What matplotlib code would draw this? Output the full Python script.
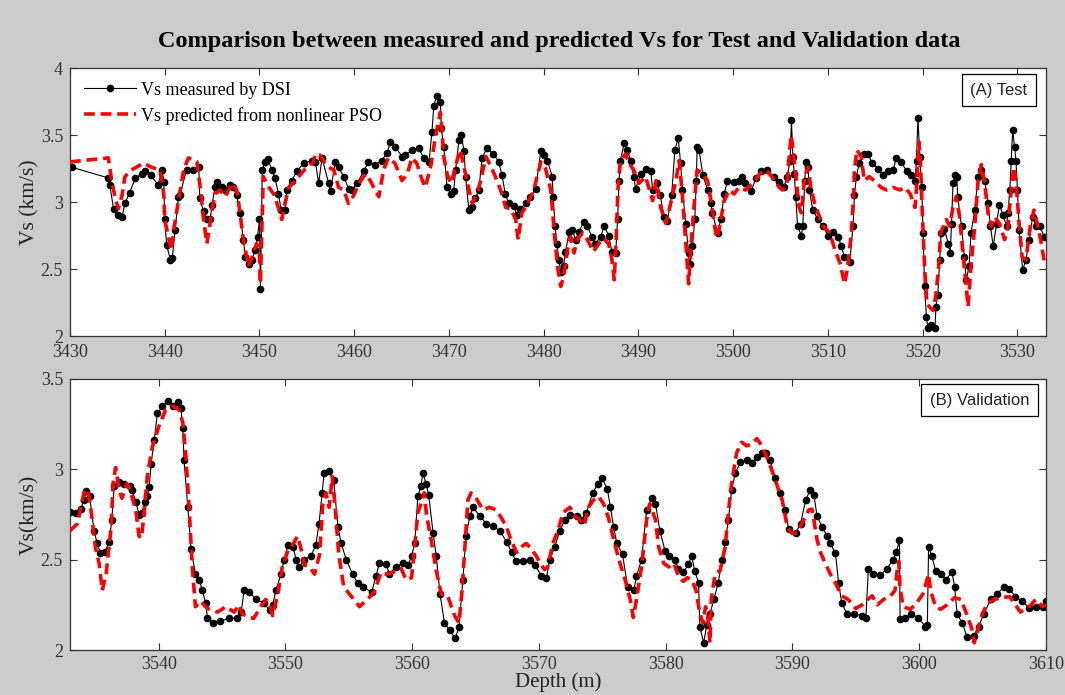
import matplotlib
matplotlib.use("Agg")
import matplotlib.pyplot as plt

# ---- (A) Test interval ----
test_depth_meas = [
    3430.2, 3434.05, 3434.2, 3434.6, 3435.1, 3435.5, 3435.8, 3436.3, 3436.9, 3437.6,
    3437.9, 3438.5, 3439.3, 3439.75, 3439.9, 3440.0, 3440.2, 3440.6, 3440.8, 3441.1,
    3441.45, 3441.6, 3442.3, 3443.0, 3443.6, 3443.7, 3444.1, 3444.45, 3444.8, 3445.0,
    3445.3, 3445.5, 3446.0, 3446.35, 3446.9, 3447.2, 3447.6, 3447.95, 3448.3, 3448.5,
    3448.85, 3449.2, 3449.55, 3449.8, 3450.0, 3450.1, 3450.3, 3450.6, 3450.9, 3451.3,
    3451.65, 3452.0, 3452.3, 3452.7, 3452.9, 3453.4, 3453.95, 3454.65, 3455.5, 3455.9,
    3456.25, 3456.6, 3457.3, 3457.5, 3458.0, 3458.35, 3458.9, 3459.4, 3459.75, 3460.3,
    3461.0, 3461.5, 3462.2, 3462.9, 3463.5, 3463.8, 3464.35, 3465.05, 3465.4, 3466.1,
    3466.8, 3467.35, 3467.9, 3468.2, 3468.4, 3468.7, 3469.1, 3469.2, 3469.45, 3469.8,
    3470.2, 3470.5, 3470.7, 3471.05, 3471.3, 3471.6, 3471.75, 3472.1, 3472.45, 3472.8,
    3473.15, 3473.5, 3474.0, 3474.7, 3475.25, 3475.6, 3475.95, 3476.3, 3476.85, 3477.2,
    3477.55, 3478.1, 3478.6, 3479.15, 3479.7, 3480.0, 3480.4, 3480.9, 3481.0, 3481.2,
    3481.4, 3481.6, 3481.8, 3482.1, 3482.3, 3482.7, 3483.0, 3483.4, 3483.7, 3484.25,
    3484.6, 3485.1, 3485.45, 3486.0, 3486.4, 3486.85, 3487.2, 3487.6, 3487.8, 3487.95,
    3488.1, 3488.5, 3488.8, 3489.2, 3489.5, 3489.7, 3490.25, 3490.8, 3491.3, 3491.5,
    3492.0, 3492.3, 3492.7, 3493.05, 3493.5, 3493.85, 3494.2, 3494.45, 3494.65, 3495.0,
    3495.3, 3495.45, 3495.7, 3495.95, 3496.1, 3496.2, 3496.4, 3496.8, 3497.3, 3497.65,
    3497.8, 3498.35, 3498.7, 3499.05, 3499.4, 3500.1, 3500.6, 3500.95, 3501.3, 3501.9,
    3502.4, 3502.95, 3503.6, 3504.3, 3504.85, 3505.35, 3505.7, 3506.0, 3506.15, 3506.3,
    3506.45, 3506.6, 3506.8, 3507.2, 3507.35, 3507.55, 3507.7, 3507.9, 3508.05, 3508.4,
    3508.95, 3509.5, 3510.0, 3510.55, 3511.1, 3511.4, 3511.75, 3512.3, 3512.65, 3512.8,
    3513.0, 3513.3, 3513.85, 3514.2, 3514.7, 3515.3, 3515.8, 3516.35, 3516.9, 3517.2,
    3517.75, 3518.3, 3518.8, 3519.2, 3519.35, 3519.5, 3519.7, 3519.9, 3520.05, 3520.2,
    3520.4, 3520.55, 3520.9, 3521.3, 3521.4, 3521.6, 3521.8, 3521.95, 3522.3, 3522.7,
    3522.9, 3523.05, 3523.2, 3523.4, 3523.6, 3523.7, 3524.1, 3524.4, 3524.6, 3524.9,
    3525.1, 3525.5, 3525.85, 3526.2, 3526.55, 3526.9, 3527.15, 3527.45, 3527.8, 3528.1,
    3528.5, 3528.85, 3529.0, 3529.2, 3529.35, 3529.5, 3529.7, 3529.85, 3530.0, 3530.2,
    3530.55, 3530.9, 3531.25, 3531.6, 3531.95, 3532.35, 3532.85,
]
test_vs_meas = [
    3.26, 3.18, 3.13, 2.95, 2.90, 2.89, 2.99, 3.07, 3.18, 3.21,
    3.23, 3.20, 3.13, 3.24, 3.15, 2.87, 2.68, 2.57, 2.58, 2.79,
    3.04, 3.05, 3.24, 3.24, 3.26, 3.03, 2.93, 2.87, 2.87, 2.98,
    3.11, 3.15, 3.11, 3.09, 3.13, 3.11, 3.05, 2.92, 2.72, 2.59,
    2.54, 2.57, 2.64, 2.74, 2.87, 2.35, 3.24, 3.30, 3.32, 3.24,
    3.18, 3.06, 2.94, 2.94, 3.09, 3.16, 3.23, 3.29, 3.31, 3.30,
    3.14, 3.33, 3.14, 3.08, 3.30, 3.26, 3.19, 3.10, 3.09, 3.14,
    3.23, 3.30, 3.28, 3.31, 3.37, 3.45, 3.41, 3.34, 3.35, 3.39,
    3.40, 3.33, 3.30, 3.52, 3.72, 3.79, 3.75, 3.55, 3.41, 3.11,
    3.06, 3.08, 3.24, 3.46, 3.50, 3.38, 3.19, 2.94, 2.96, 3.03,
    3.09, 3.33, 3.40, 3.36, 3.30, 3.20, 3.06, 2.99, 2.97, 2.90,
    2.95, 2.99, 3.04, 3.10, 3.38, 3.35, 3.31, 3.19, 3.04, 2.82,
    2.69, 2.57, 2.48, 2.52, 2.63, 2.78, 2.79, 2.72, 2.78, 2.85,
    2.82, 2.74, 2.69, 2.74, 2.82, 2.75, 2.63, 2.62, 2.87, 3.16,
    3.31, 3.44, 3.39, 3.31, 3.19, 3.10, 3.21, 3.25, 3.23, 3.09,
    3.14, 3.05, 2.89, 2.86, 3.05, 3.39, 3.48, 3.29, 3.09, 2.84,
    2.62, 2.54, 2.67, 2.87, 3.16, 3.41, 3.39, 3.20, 3.09, 2.99,
    2.92, 2.77, 2.87, 3.06, 3.16, 3.15, 3.16, 3.19, 3.14, 3.08,
    3.18, 3.23, 3.24, 3.19, 3.15, 3.11, 3.19, 3.31, 3.61, 3.34,
    3.21, 3.04, 2.82, 2.75, 2.82, 3.16, 3.30, 3.26, 3.09, 2.94,
    2.87, 2.82, 2.75, 2.78, 2.74, 2.67, 2.59, 2.55, 2.82, 3.05,
    3.19, 3.29, 3.36, 3.36, 3.29, 3.25, 3.20, 3.23, 3.24, 3.33,
    3.30, 3.23, 3.20, 3.16, 3.31, 3.63, 3.34, 3.11, 2.77, 2.37,
    2.14, 2.06, 2.08, 2.06, 2.22, 2.31, 2.57, 2.77, 2.80, 2.69,
    2.62, 2.84, 3.14, 3.20, 3.19, 3.04, 2.82, 2.59, 2.42, 2.52,
    2.77, 2.94, 3.19, 3.24, 3.16, 2.99, 2.82, 2.67, 2.84, 2.98,
    2.90, 2.82, 2.92, 3.09, 3.31, 3.54, 3.41, 3.31, 3.09, 2.79,
    2.49, 2.57, 2.72, 2.89, 2.82, 2.82, 2.74,
]
test_depth_pred = [
    3430.0, 3434.05, 3434.4, 3434.75, 3435.1, 3435.5, 3435.8, 3436.5, 3437.75, 3438.6,
    3439.5, 3439.9, 3440.0, 3440.4, 3440.7, 3440.95, 3441.45, 3442.0, 3442.5, 3443.4,
    3443.75, 3444.1, 3444.45, 3445.0, 3445.3, 3445.85, 3446.4, 3447.1, 3447.6, 3447.95,
    3448.3, 3448.85, 3449.35, 3449.7, 3450.0, 3450.1, 3450.3, 3450.4, 3451.0, 3451.5,
    3452.0, 3452.35, 3452.7, 3453.1, 3453.8, 3454.85, 3455.7, 3455.9, 3456.4, 3456.8,
    3457.3, 3457.85, 3458.35, 3458.9, 3459.4, 3459.95, 3460.5, 3461.2, 3461.7, 3462.25,
    3462.6, 3463.1, 3463.6, 3464.3, 3465.05, 3465.6, 3466.1, 3466.6, 3467.2, 3467.5,
    3468.05, 3468.4, 3468.75, 3469.1, 3469.25, 3469.45, 3469.8, 3470.2, 3470.5, 3470.85,
    3471.2, 3471.6, 3471.9, 3472.45, 3472.95, 3473.35, 3473.9, 3474.4, 3474.9, 3475.45,
    3476.0, 3476.5, 3477.05, 3477.3, 3477.7, 3478.25, 3478.95, 3479.7, 3480.2, 3480.75,
    3481.1, 3481.45, 3481.8, 3482.1, 3482.5, 3482.85, 3483.2, 3483.55, 3484.1, 3484.6,
    3485.25, 3485.8, 3486.3, 3486.85, 3487.2, 3487.45, 3487.65, 3487.85, 3488.1, 3488.65,
    3489.0, 3489.5, 3490.05, 3490.75, 3491.5, 3491.85, 3492.35, 3492.9, 3493.4, 3493.95,
    3494.3, 3494.65, 3494.95, 3495.3, 3495.6, 3495.95, 3496.2, 3496.8, 3497.3, 3497.65,
    3498.0, 3498.25, 3498.5, 3499.05, 3499.6, 3500.1, 3500.6, 3501.3, 3502.1, 3502.8,
    3503.45, 3504.2, 3504.85, 3505.2, 3505.7, 3506.1, 3506.3, 3506.6, 3506.95, 3507.2,
    3507.55, 3507.9, 3508.2, 3508.6, 3508.95, 3509.5, 3510.2, 3510.75, 3511.3, 3511.75,
    3512.1, 3512.5, 3512.7, 3512.8, 3513.05, 3513.5, 3513.85, 3514.35, 3514.9, 3515.6,
    3516.2, 3516.9, 3517.6, 3518.1, 3518.7, 3519.2, 3519.4, 3519.6, 3519.75, 3519.95,
    3520.2, 3520.45, 3520.7, 3521.1, 3521.4, 3521.7, 3521.9, 3522.2, 3522.5, 3522.85,
    3523.2, 3523.55, 3523.9, 3524.25, 3524.8, 3525.1, 3525.5, 3525.85, 3526.2, 3526.55,
    3526.9, 3527.25, 3527.6, 3528.1, 3528.65, 3529.0, 3529.35, 3529.6, 3529.85, 3530.2,
    3530.5, 3530.9, 3531.4, 3531.75, 3532.1, 3532.45, 3532.85,
]
test_vs_pred = [
    3.30, 3.33, 3.16, 3.04, 2.95, 3.05, 3.19, 3.24, 3.29, 3.26,
    3.24, 3.06, 2.87, 2.74, 2.64, 2.79, 3.01, 3.24, 3.33, 3.30,
    3.11, 2.87, 2.69, 2.94, 3.06, 3.09, 3.04, 3.14, 3.09, 2.92,
    2.72, 2.52, 2.62, 2.69, 2.62, 2.39, 2.92, 3.19, 3.11, 3.06,
    2.96, 2.87, 2.99, 3.11, 3.16, 3.25, 3.30, 3.36, 3.35, 3.30,
    3.26, 3.24, 3.11, 3.09, 2.99, 3.05, 3.14, 3.21, 3.16, 3.08,
    3.04, 3.24, 3.33, 3.29, 3.16, 3.21, 3.33, 3.29, 3.16, 3.11,
    3.26, 3.41, 3.55, 3.67, 3.55, 3.34, 3.21, 3.14, 3.21, 3.31,
    3.39, 3.26, 3.16, 2.99, 3.06, 3.16, 3.34, 3.27, 3.19, 3.09,
    2.96, 2.95, 2.87, 2.72, 2.92, 2.98, 3.09, 3.30, 3.25, 3.09,
    2.79, 2.52, 2.37, 2.44, 2.64, 2.74, 2.62, 2.72, 2.77, 2.72,
    2.63, 2.69, 2.73, 2.69, 2.57, 2.42, 2.72, 3.11, 3.31, 3.36,
    3.29, 3.24, 3.14, 3.19, 3.01, 3.16, 2.96, 2.84, 2.99, 3.16,
    3.31, 3.04, 2.74, 2.39, 2.72, 3.04, 3.24, 3.21, 3.16, 3.01,
    2.84, 2.73, 2.79, 3.01, 3.09, 3.06, 3.11, 3.09, 3.14, 3.21,
    3.24, 3.18, 3.11, 3.09, 3.14, 3.50, 3.41, 3.21, 2.96, 2.92,
    3.19, 3.26, 3.11, 2.99, 2.92, 2.82, 2.77, 2.64, 2.54, 2.39,
    2.52, 2.79, 3.04, 3.24, 3.39, 3.34, 3.16, 3.19, 3.16, 3.11,
    3.09, 3.11, 3.09, 3.11, 3.06, 2.96, 3.16, 3.45, 3.34, 2.94,
    2.52, 2.24, 2.22, 2.19, 2.31, 2.52, 2.77, 2.82, 2.87, 2.82,
    2.96, 3.04, 2.89, 2.62, 2.22, 2.52, 2.82, 3.16, 3.28, 3.14,
    2.92, 2.82, 2.89, 2.84, 2.72, 2.82, 3.09, 3.26, 3.16, 2.82,
    2.59, 2.57, 2.84, 2.94, 2.84, 2.72, 2.55,
]

# ---- (B) Validation interval ----
val_depth_meas = [
    3533.0, 3533.45, 3533.85, 3534.1, 3534.3, 3534.55, 3534.9, 3535.15, 3535.4, 3535.75,
    3536.1, 3536.3, 3536.5, 3536.9, 3537.3, 3537.7, 3537.9, 3538.2, 3538.45, 3538.7,
    3538.9, 3539.1, 3539.25, 3539.4, 3539.65, 3539.9, 3540.3, 3540.7, 3541.1, 3541.5,
    3541.75, 3541.9, 3542.0, 3542.3, 3542.55, 3542.9, 3543.2, 3543.45, 3543.7, 3543.85,
    3544.25, 3544.8, 3545.55, 3546.2, 3546.5, 3546.75, 3547.15, 3547.7, 3548.3, 3548.75,
    3549.0, 3549.25, 3549.65, 3549.9, 3550.2, 3550.6, 3550.85, 3551.1, 3551.5, 3552.0,
    3552.4, 3552.65, 3552.9, 3553.05, 3553.4, 3553.8, 3554.15, 3554.4, 3554.8, 3555.3,
    3555.7, 3556.1, 3556.8, 3557.15, 3557.4, 3557.95, 3558.2, 3558.7, 3559.3, 3559.7,
    3559.95, 3560.2, 3560.45, 3560.7, 3560.85, 3561.1, 3561.3, 3561.65, 3561.9, 3562.2,
    3562.55, 3562.95, 3563.4, 3563.7, 3564.0, 3564.25, 3564.55, 3564.8, 3565.35, 3565.85,
    3566.4, 3566.9, 3567.45, 3567.85, 3568.2, 3568.75, 3569.3, 3569.7, 3570.2, 3570.6,
    3570.85, 3571.25, 3571.65, 3572.05, 3572.45, 3573.0, 3573.35, 3573.75, 3574.25, 3574.65,
    3575.0, 3575.4, 3575.65, 3575.9, 3576.15, 3576.6, 3577.0, 3577.5, 3577.7, 3578.1,
    3578.5, 3578.9, 3579.2, 3579.55, 3579.95, 3580.3, 3580.75, 3581.0, 3581.4, 3581.8,
    3582.05, 3582.3, 3582.6, 3582.7, 3583.0, 3583.25, 3583.5, 3583.8, 3584.15, 3584.45,
    3584.7, 3584.95, 3585.2, 3585.5, 3585.9, 3586.4, 3586.8, 3587.2, 3587.6, 3587.95,
    3588.25, 3588.65, 3589.0, 3589.45, 3589.7, 3590.25, 3590.65, 3591.05, 3591.4, 3591.7,
    3591.95, 3592.35, 3592.75, 3593.0, 3593.4, 3593.65, 3593.9, 3594.3, 3594.85, 3595.5,
    3595.8, 3596.0, 3596.4, 3596.95, 3597.45, 3597.95, 3598.2, 3598.45, 3598.5, 3598.85,
    3599.35, 3599.9, 3600.5, 3600.65, 3600.75, 3601.0, 3601.3, 3601.7, 3602.1, 3602.6,
    3602.8, 3603.0, 3603.4, 3603.8, 3604.35, 3604.7, 3605.1, 3605.65, 3606.15, 3606.7,
    3607.1, 3607.6, 3608.15, 3608.7, 3609.2, 3609.75, 3610.0,
]
val_vs_meas = [
    2.765, 2.76, 2.78, 2.83, 2.88, 2.85, 2.66, 2.59, 2.535, 2.54,
    2.60, 2.72, 2.91, 2.93, 2.92, 2.91, 2.885, 2.82, 2.75, 2.76,
    2.82, 2.85, 2.90, 3.03, 3.16, 3.31, 3.35, 3.38, 3.35, 3.37,
    3.34, 3.23, 3.05, 2.79, 2.56, 2.42, 2.39, 2.33, 2.26, 2.18,
    2.15, 2.16, 2.175, 2.175, 2.21, 2.33, 2.32, 2.28, 2.26, 2.22,
    2.25, 2.33, 2.42, 2.50, 2.58, 2.57, 2.50, 2.46, 2.50, 2.52,
    2.58, 2.70, 2.87, 2.98, 2.99, 2.94, 2.68, 2.59, 2.50, 2.42,
    2.37, 2.35, 2.32, 2.41, 2.48, 2.475, 2.42, 2.46, 2.48, 2.47,
    2.52, 2.59, 2.85, 2.91, 2.98, 2.92, 2.86, 2.65, 2.52, 2.31,
    2.15, 2.11, 2.065, 2.13, 2.39, 2.63, 2.74, 2.79, 2.74, 2.70,
    2.685, 2.66, 2.60, 2.54, 2.49, 2.49, 2.50, 2.47, 2.41, 2.40,
    2.50, 2.57, 2.66, 2.72, 2.75, 2.74, 2.72, 2.76, 2.87, 2.92,
    2.95, 2.89, 2.79, 2.68, 2.59, 2.53, 2.35, 2.33, 2.41, 2.50,
    2.775, 2.84, 2.81, 2.66, 2.55, 2.52, 2.50, 2.45, 2.43, 2.475,
    2.52, 2.44, 2.37, 2.13, 2.04, 2.14, 2.20, 2.28, 2.37, 2.50,
    2.60, 2.72, 2.885, 2.98, 3.04, 3.05, 3.035, 3.07, 3.09, 3.09,
    3.05, 2.95, 2.87, 2.775, 2.67, 2.645, 2.70, 2.83, 2.885, 2.86,
    2.74, 2.68, 2.63, 2.59, 2.535, 2.37, 2.26, 2.20, 2.20, 2.19,
    2.18, 2.45, 2.42, 2.415, 2.45, 2.50, 2.54, 2.61, 2.17, 2.175,
    2.20, 2.18, 2.13, 2.14, 2.57, 2.52, 2.44, 2.42, 2.39, 2.43,
    2.35, 2.20, 2.15, 2.07, 2.08, 2.13, 2.20, 2.28, 2.31, 2.35,
    2.34, 2.295, 2.27, 2.23, 2.24, 2.24, 2.27,
]
val_depth_pred = [
    3533.0, 3533.6, 3534.1, 3534.4, 3534.65, 3535.0, 3535.3, 3535.55, 3535.85, 3536.25,
    3536.4, 3536.6, 3536.9, 3537.1, 3537.5, 3537.75, 3538.2, 3538.45, 3538.65, 3538.85,
    3539.1, 3539.5, 3540.0, 3540.55, 3541.1, 3541.6, 3541.9, 3542.15, 3542.4, 3542.65,
    3542.9, 3543.3, 3543.85, 3544.65, 3545.3, 3545.95, 3546.35, 3546.6, 3547.0, 3547.5,
    3548.05, 3548.45, 3548.7, 3549.0, 3549.4, 3549.75, 3550.2, 3550.55, 3550.95, 3551.2,
    3551.5, 3551.9, 3552.3, 3552.7, 3552.95, 3553.2, 3553.45, 3553.7, 3553.95, 3554.2,
    3554.6, 3555.05, 3555.85, 3556.6, 3557.0, 3557.55, 3557.95, 3558.5, 3559.15, 3559.5,
    3559.95, 3560.2, 3560.45, 3560.7, 3560.95, 3561.15, 3561.5, 3561.9, 3562.3, 3562.8,
    3563.35, 3563.7, 3563.95, 3564.2, 3564.4, 3564.65, 3565.05, 3565.6, 3566.1, 3566.65,
    3567.05, 3567.45, 3567.85, 3568.25, 3568.6, 3569.0, 3569.4, 3569.8, 3570.2, 3570.45,
    3570.7, 3571.1, 3571.5, 3571.9, 3572.45, 3572.85, 3573.25, 3573.6, 3573.9, 3574.3,
    3574.7, 3575.1, 3575.5, 3575.9, 3576.4, 3576.8, 3577.2, 3577.45, 3577.7, 3578.1,
    3578.5, 3578.75, 3579.2, 3579.45, 3579.85, 3580.25, 3580.65, 3581.0, 3581.4, 3581.7,
    3582.05, 3582.4, 3582.7, 3582.95, 3583.15, 3583.3, 3583.5, 3583.6, 3583.9, 3584.3,
    3584.7, 3584.95, 3585.2, 3585.6, 3586.0, 3586.4, 3586.8, 3587.2, 3587.6, 3588.1,
    3588.65, 3589.2, 3589.6, 3590.0, 3590.4, 3590.75, 3591.3, 3591.55, 3591.7, 3591.95,
    3592.25, 3592.6, 3593.0, 3593.4, 3593.9, 3594.4, 3595.0, 3595.5, 3595.95, 3596.3,
    3596.7, 3597.2, 3597.75, 3598.1, 3598.3, 3598.4, 3598.5, 3598.75, 3599.3, 3599.8,
    3600.3, 3600.75, 3600.9, 3601.3, 3601.7, 3602.2, 3602.8, 3603.3, 3603.75, 3604.15,
    3604.35, 3604.65, 3605.0, 3605.4, 3605.95, 3606.45, 3607.15, 3607.6, 3608.0, 3608.7,
    3609.2, 3609.75, 3610.0,
]
val_vs_pred = [
    2.66, 2.70, 2.87, 2.89, 2.78, 2.57, 2.48, 2.33, 2.42, 2.68,
    2.92, 3.01, 2.88, 2.84, 2.92, 2.885, 2.77, 2.63, 2.62, 2.76,
    2.96, 3.125, 3.235, 3.33, 3.35, 3.33, 3.26, 3.07, 2.79, 2.46,
    2.24, 2.27, 2.23, 2.21, 2.24, 2.21, 2.25, 2.20, 2.185, 2.175,
    2.24, 2.28, 2.26, 2.19, 2.31, 2.46, 2.55, 2.58, 2.63, 2.57,
    2.47, 2.46, 2.42, 2.53, 2.81, 2.87, 2.79, 2.96, 2.77, 2.535,
    2.35, 2.31, 2.24, 2.29, 2.32, 2.43, 2.42, 2.43, 2.45, 2.39,
    2.40, 2.57, 2.76, 2.81, 2.87, 2.74, 2.61, 2.44, 2.31, 2.30,
    2.19, 2.15, 2.34, 2.61, 2.83, 2.87, 2.84, 2.775, 2.79, 2.775,
    2.73, 2.68, 2.60, 2.54, 2.57, 2.59, 2.56, 2.52, 2.47, 2.445,
    2.46, 2.59, 2.66, 2.76, 2.79, 2.74, 2.72, 2.69, 2.79, 2.83,
    2.85, 2.81, 2.73, 2.61, 2.48, 2.39, 2.28, 2.18, 2.28, 2.46,
    2.72, 2.81, 2.72, 2.57, 2.48, 2.46, 2.48, 2.41, 2.38, 2.40,
    2.39, 2.33, 2.20, 2.15, 2.24, 2.20, 2.04, 2.28, 2.42, 2.44,
    2.57, 2.76, 2.92, 3.09, 3.15, 3.13, 3.14, 3.17, 3.13, 3.05,
    2.94, 2.83, 2.68, 2.645, 2.65, 2.70, 2.775, 2.78, 2.72, 2.61,
    2.535, 2.48, 2.42, 2.37, 2.30, 2.28, 2.23, 2.25, 2.28, 2.30,
    2.25, 2.28, 2.30, 2.33, 2.46, 2.49, 2.34, 2.24, 2.225, 2.26,
    2.31, 2.42, 2.33, 2.24, 2.225, 2.25, 2.29, 2.28, 2.20, 2.12,
    2.04, 2.12, 2.20, 2.26, 2.28, 2.29, 2.295, 2.25, 2.21, 2.24,
    2.28, 2.24, 2.25,
]

serif = "Liberation Serif"
sans = "Liberation Sans"

fig = plt.figure(figsize=(10.65, 6.95), dpi=100, facecolor="#cccccc")
ax1 = fig.add_axes([0.0657, 0.5165, 0.9163, 0.3855])
ax2 = fig.add_axes([0.0657, 0.0647, 0.9163, 0.39])


def style_axes(ax, xpad=6):
    ax.set_facecolor("white")
    ax.tick_params(direction="in", top=True, right=True, length=5,
                   labelsize=13, colors="#333333")
    ax.tick_params(axis="x", pad=xpad)
    ax.tick_params(axis="y", pad=5)
    for lab in ax.get_xticklabels() + ax.get_yticklabels():
        lab.set_fontfamily(serif)
    for s in ax.spines.values():
        s.set_color("#333333")
        s.set_linewidth(0.9)


# top panel
ax1.plot(test_depth_meas, test_vs_meas, "-", color="black", lw=0.8,
         marker="o", ms=4.5, label="Vs measured by DSI", zorder=2)
ax1.plot(test_depth_pred, test_vs_pred, "--", color="red", lw=2.6,
         dashes=(3, 1.6), label="Vs predicted from nonlinear PSO", zorder=3)
ax1.set_xlim(3430, 3533)
ax1.set_ylim(2, 4)
ax1.set_xticks([3430, 3440, 3450, 3460, 3470, 3480, 3490, 3500, 3510, 3520, 3530])
ax1.set_yticks([2, 2.5, 3, 3.5, 4])
ax1.set_yticklabels(["2", "2.5", "3", "3.5", "4"])
ax1.set_ylabel("Vs (km/s)", fontfamily=serif, fontsize=15.5, color="#222222", labelpad=1)
style_axes(ax1)
ax1.legend(loc="upper left", frameon=False, prop={"family": serif, "size": 13},
           handlelength=2.9, handletextpad=0.3, borderaxespad=0.35,
           labelspacing=0.45)
ax1.text(0.952, 0.918, "(A) Test", transform=ax1.transAxes, ha="center", va="center",
         fontfamily=sans, fontsize=12, color="#222222",
         bbox=dict(boxstyle="square,pad=0.5", fc="white", ec="black", lw=0.9))

# bottom panel
ax2.plot(val_depth_meas, val_vs_meas, "-", color="black", lw=0.8,
         marker="o", ms=4.5, zorder=2)
ax2.plot(val_depth_pred, val_vs_pred, "--", color="red", lw=2.6,
         dashes=(3, 1.6), zorder=3)
ax2.set_xlim(3533, 3610)
ax2.set_ylim(2, 3.5)
ax2.set_xticks([3540, 3550, 3560, 3570, 3580, 3590, 3600, 3610])
ax2.set_yticks([2, 2.5, 3, 3.5])
ax2.set_yticklabels(["2", "2.5", "3", "3.5"])
ax2.set_ylabel("Vs(km/s)", fontfamily=serif, fontsize=15.5, color="#222222", labelpad=1)
ax2.set_xlabel("Depth (m)", fontfamily=serif, fontsize=15, color="#222222", labelpad=0)
style_axes(ax2, xpad=4)
ax2.text(0.932, 0.922, "(B) Validation", transform=ax2.transAxes, ha="center", va="center",
         fontfamily=sans, fontsize=12, color="#222222",
         bbox=dict(boxstyle="square,pad=0.5", fc="white", ec="black", lw=0.9))

fig.text(0.525, 0.941, "Comparison between measured and predicted Vs for Test and Validation data",
         ha="center", va="center", fontfamily=serif, fontsize=17.5, fontweight="bold")

fig.savefig("out.png", dpi=100, facecolor=fig.get_facecolor())
